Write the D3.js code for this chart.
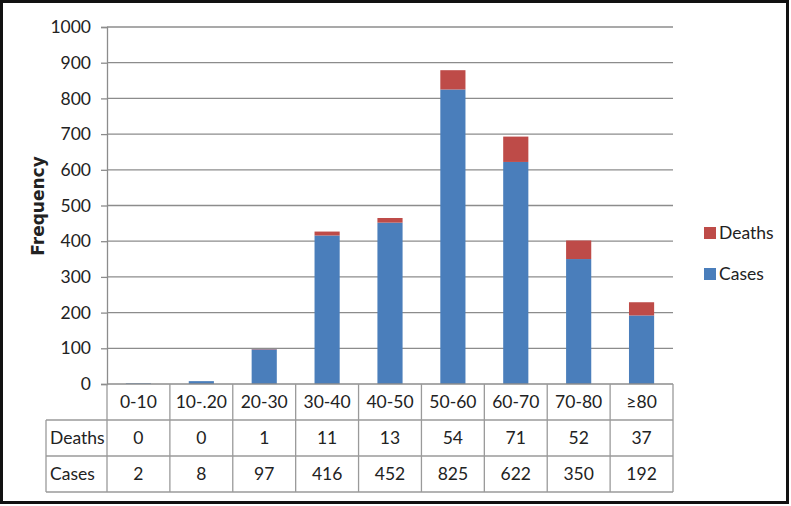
<!DOCTYPE html>
<meta charset="utf-8">
<script src="https://d3js.org/d3.v7.min.js"></script>
<style>
    body { margin: 0; background: #fff; }
    text { font-family: Lato, "Liberation Sans", sans-serif; fill: #222; }
</style>
<div id="my_dataviz"></div>
<script>

    // data
    const groups = ["0-10", "10-.20", "20-30", "30-40", "40-50", "50-60", "60-70", "70-80", "\u226580"];
    const cases  = [2, 8, 97, 416, 452, 825, 622, 350, 192];
    const deaths = [0, 0, 1, 11, 13, 54, 71, 52, 37];
    const yTicks = [0, 100, 200, 300, 400, 500, 600, 700, 800, 900, 1000];

    const W = 791, H = 506;
    const plot = {left: 107, right: 673, top: 27, bottom: 384};
    const rowH = 36;
    const headLeft = 46;
    const fontSize = "17.5px";

    const svg = d3.select("#my_dataviz")
        .append("svg")
        .attr("width", W)
        .attr("height", H);

    svg.append("rect")
        .attr("x", 1.5).attr("y", 1.5)
        .attr("width", 786).attr("height", 501)
        .attr("fill", "#fff")
        .attr("stroke", "#111")
        .attr("stroke-width", 3);

    const x = d3.scaleBand()
        .domain(groups)
        .range([plot.left, plot.right])
        .paddingInner(0.6)
        .paddingOuter(0.3);

    const y = d3.scaleLinear()
        .domain([0, 1000])
        .range([plot.bottom, plot.top]);

    // gridlines
    svg.append("g")
        .selectAll("line")
        .data(yTicks.filter(d => d > 0))
        .join("line")
        .attr("x1", plot.left).attr("x2", plot.right)
        .attr("y1", d => y(d)).attr("y2", d => y(d))
        .attr("stroke", "#8c8c8c")
        .attr("stroke-width", 1.3);

    // y axis
    const yAxis = svg.append("g")
        .attr("transform", `translate(${plot.left},0)`)
        .call(d3.axisLeft(y).tickValues(yTicks).tickFormat(d3.format("d")).tickSize(6).tickPadding(10));
    yAxis.select(".domain").attr("stroke", "#8c8c8c").attr("stroke-width", 1.3);
    yAxis.selectAll(".tick line").attr("stroke", "#8c8c8c").attr("stroke-width", 1.3);
    yAxis.selectAll("text")
        .style("font-family", "Lato, 'Liberation Sans', sans-serif")
        .style("font-size", fontSize)
        .attr("fill", "#222");

    svg.append("text")
        .attr("transform", `translate(44,206) rotate(-90)`)
        .attr("text-anchor", "middle")
        .style("font-family", "'DejaVu Sans', sans-serif")
        .style("font-weight", "bold")
        .style("font-size", "17px")
        .attr("fill", "#000")
        .text("Frequency");

    // stacked bars
    const stacked = groups.map((g, i) => ({g: g, cases: cases[i], deaths: deaths[i]}));

    svg.append("g")
        .selectAll("rect")
        .data(stacked)
        .join("rect")
        .attr("x", d => x(d.g))
        .attr("width", x.bandwidth())
        .attr("y", d => y(d.cases))
        .attr("height", d => y(0) - y(d.cases))
        .attr("fill", "#4a7ebb");

    svg.append("g")
        .selectAll("rect")
        .data(stacked)
        .join("rect")
        .attr("x", d => x(d.g))
        .attr("width", x.bandwidth())
        .attr("y", d => y(d.cases + d.deaths))
        .attr("height", d => y(d.cases) - y(d.cases + d.deaths))
        .attr("fill", "#be4b48");

    // x axis line (top of the data table)
    svg.append("line")
        .attr("x1", plot.left).attr("x2", plot.right)
        .attr("y1", plot.bottom).attr("y2", plot.bottom)
        .attr("stroke", "#8c8c8c").attr("stroke-width", 1.3);

    // data table
    const step = x.step();
    const colX = groups.map((g, i) => plot.left + i * step);
    const table = svg.append("g")
        .attr("stroke", "#9a9a9a")
        .attr("stroke-width", 1.3);

    // horizontal lines
    [1, 2, 3].forEach(r => {
        table.append("line")
            .attr("x1", headLeft)
            .attr("x2", plot.right)
            .attr("y1", plot.bottom + r * rowH)
            .attr("y2", plot.bottom + r * rowH);
    });
    // vertical lines
    table.append("line")
        .attr("x1", headLeft).attr("x2", headLeft)
        .attr("y1", plot.bottom + rowH).attr("y2", plot.bottom + 3 * rowH);
    colX.concat([plot.right]).forEach(cx => {
        table.append("line")
            .attr("x1", cx).attr("x2", cx)
            .attr("y1", plot.bottom).attr("y2", plot.bottom + 3 * rowH);
    });

    const rows = [
        {label: "", values: groups},
        {label: "Deaths", values: deaths},
        {label: "Cases", values: cases}
    ];

    rows.forEach((row, r) => {
        const cy = plot.bottom + r * rowH + rowH / 2;
        if (row.label) {
            svg.append("text")
                .attr("x", headLeft + 4)
                .attr("y", cy)
                .attr("dy", "0.36em")
                .style("font-size", fontSize)
                .text(row.label);
        }
        svg.append("g")
            .selectAll("text")
            .data(row.values)
            .join("text")
            .attr("x", (d, i) => x(groups[i]) + x.bandwidth() / 2)
            .attr("y", cy)
            .attr("dy", "0.36em")
            .attr("text-anchor", "middle")
            .style("font-size", fontSize)
            .text(d => d);
    });

    // legend
    const legend = svg.append("g");
    const legendItems = [
        {name: "Deaths", color: "#be4b48", y: 233},
        {name: "Cases", color: "#4a7ebb", y: 274}
    ];
    legendItems.forEach(item => {
        legend.append("rect")
            .attr("x", 704).attr("y", item.y - 6)
            .attr("width", 12).attr("height", 12)
            .attr("fill", item.color);
        legend.append("text")
            .attr("x", 719).attr("y", item.y)
            .attr("dy", "0.36em")
            .style("font-size", fontSize)
            .text(item.name);
    });
</script>
